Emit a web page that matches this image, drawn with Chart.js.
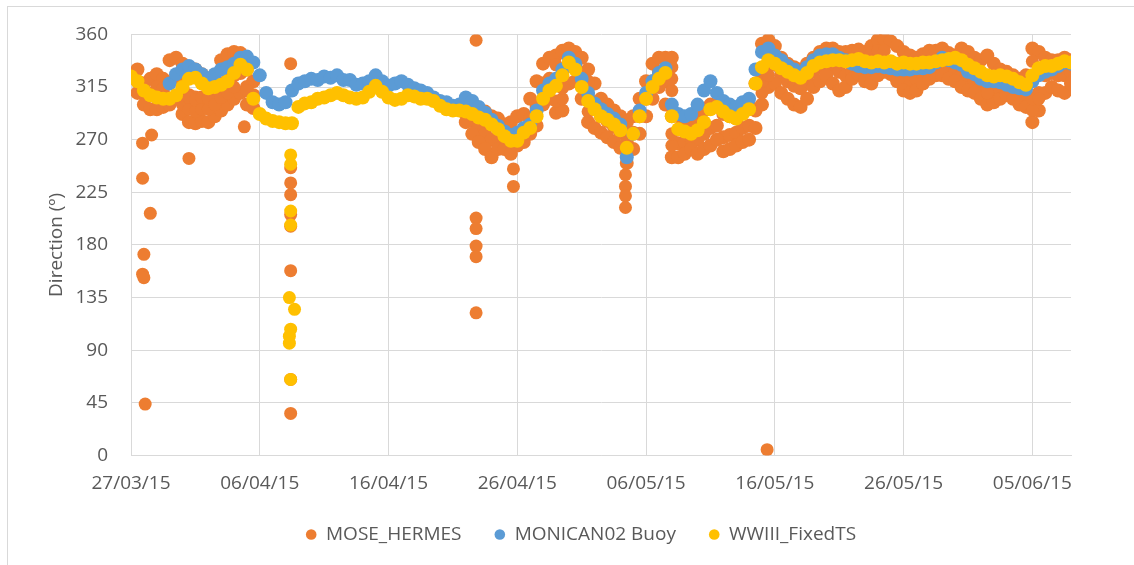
<!DOCTYPE html>
<html>
<head>
<meta charset="utf-8">
<script src="https://cdn.jsdelivr.net/npm/chart.js@4.4.1/dist/chart.umd.min.js"></script>
<style>
  html, body { margin: 0; padding: 0; background: #fff; overflow: hidden; }
  #frame { position: absolute; left: 7px; top: 6px; width: 1200px; height: 700px; border: 1px solid #d9d9d9; }
  #wrap { position: absolute; left: 0; top: 0; width: 1134px; height: 565px; }
</style>
</head>
<body>
<div id="frame"></div>
<div id="wrap"><canvas id="dir_chart"></canvas></div>
<script>
// series sampled every half day from 27/03/15 (day 0) to 08/06/15 (day 73)
const wwiii_dir = [
  324, 320, 312, 308, 306, 305, 305, 308, 315, 322,
  323, 318, 314, 315, 317, 320, 327, 334, 330, 305,
  292, 288, 286, 285, 284, 284, 298, 301, 302, 305,
  306, 308, 310, 308, 306, 305, 306, 311, 316, 311,
  306, 304, 305, 308, 307, 305, 305, 303, 299, 296,
  295, 295, 294, 292, 289, 287, 283, 279, 273, 269,
  269, 276, 280, 290, 305, 312, 316, 325, 336, 330,
  315, 303, 296, 290, 287, 283, 278, 263, 275, 290,
  305, 315, 322, 327, 290, 279, 277, 275, 278, 285,
  296, 298, 294, 290, 288, 292, 296, 318, 332, 338,
  335, 331, 328, 325, 323, 327, 333, 336, 337, 338,
  338, 337, 338, 339, 337, 336, 337, 336, 337, 335,
  336, 335, 335, 336, 336, 337, 338, 339, 340, 338,
  334, 331, 328, 325, 324, 325, 324, 322, 319, 317,
  325, 331, 333, 333, 335, 337, 336,
];

const monican_dir = [
  null, null, null, null, null, null, 318, 326, 330, 333,
  330, 326, 322, 326, 330, 332, 335, 340, 341, 336,
  325, 310, 302, 300, 302, 312, 318, 320, 322, 321,
  324, 323, 325, 321, 321, 317, 318, 320, 325, 320,
  316, 318, 320, 317, 314, 312, 310, 306, 303, 302,
  299, 300, 306, 303, 298, 293, 287, 282, 277, 274,
  276, 280, 283, 295, 312, 318, 322, 330, 340, 335,
  322, 310, 301, 296, 292, 288, 283, 255, 275, 295,
  310, 320, 327, 331, 300, 292, 290, 292, 300, 312,
  320, 310, 303, 300, 298, 302, 305, 330, 345, 348,
  342, 338, 333, 330, 327, 332, 338, 342, 343, 343,
  340, 338, 335, 333, 332, 332, 333, 332, 331, 330,
  330, 330, 331, 331, 332, 336, 340, 338, 336, 334,
  328, 326, 322, 320, 320, 319, 317, 315, 314, 313,
  320, 325, 328, 330, 333, 336, 335,
];

// MOSE: upper, middle and lower edge of the scattered band
const mose_high = [
  null, 330, 318, 322, 326, 322, 338, 340, 335, 332,
  330, 326, 322, 325, 338, 343, 345, 344, 330, 320,
  null, null, null, null, null, null, null, null, null, null,
  null, null, null, null, null, null, null, null, null, null,
  null, null, null, null, null, null, null, null, null, null,
  null, null, 300, 298, 296, 294, 290, 288, 283, 285,
  290, 292, 305, 320, 335, 340, 342, 346, 348, 345,
  340, 330, 318, 305, 300, 295, 290, 285, 290, 305,
  320, 335, 340, 340, 340, 290, 285, 282, 288, 295,
  300, 300, 292, 290, 288, 294, 300, 318, 352, 355,
  350, 340, 335, 332, 330, 335, 340, 345, 348, 348,
  345, 345, 346, 347, 345, 350, 355, 356, 354, 350,
  345, 342, 340, 343, 346, 346, 348, 344, 342, 348,
  345, 340, 338, 342, 335, 330, 328, 325, 322, 325,
  348, 345, 340, 338, 338, 340, 338,
];

const mose_mid = [
  null, 320, 309, 309, 311, 310, 319, 322, 313, 308,
  306, 306, 303, 307, 316, 321, 325, 327, 315, 308,
  null, null, null, null, null, null, null, null, null, null,
  null, null, null, null, null, null, null, null, null, null,
  null, null, null, null, null, null, null, null, null, null,
  null, null, 292, 286, 280, 275, 270, 272, 270, 266,
  275, 278, 288, 298, 318, 322, 318, 320, 333, 333,
  322, 306, 299, 290, 286, 281, 276, 268, 276, 290,
  305, 320, 328, 320, 290, 267, 268, 271, 270, 275,
  280, 282, 272, 274, 276, 280, 282, 295, 326, 335,
  334, 325, 320, 316, 314, 320, 328, 333, 336, 333,
  328, 325, 328, 331, 326, 325, 330, 333, 332, 328,
  322, 320, 322, 326, 330, 332, 333, 330, 328, 325,
  322, 320, 315, 312, 312, 313, 316, 313, 310, 308,
  300, 310, 325, 327, 325, 325, 328,
];

const mose_low = [
  null, 310, 300, 296, 296, 298, 300, 305, 292, 285,
  284, 286, 285, 290, 295, 300, 305, 310, 300, 297,
  null, null, null, null, null, null, null, null, null, null,
  null, null, null, null, null, null, null, null, null, null,
  null, null, null, null, null, null, null, null, null, null,
  null, null, 285, 275, 268, 262, 255, 262, 262, 258,
  265, 268, 275, 282, 300, 305, 293, 295, 318, 320,
  305, 285, 280, 276, 272, 268, 263, 250, 262, 275,
  290, 305, 315, 300, 255, 255, 258, 262, 258, 262,
  265, 270, 260, 262, 265, 268, 270, 280, 300, 315,
  318, 310, 305, 300, 298, 305, 315, 320, 325, 318,
  312, 315, 322, 326, 320, 318, 325, 328, 326, 320,
  312, 310, 312, 318, 322, 325, 325, 322, 320, 315,
  312, 310, 305, 300, 302, 305, 308, 305, 300, 298,
  285, 295, 310, 315, 312, 310, 318,
];

// extra MOSE readings inside the wide spread
const mose_fill_day = [2, 2.5, 4, 4.5, 4.5, 5, 5, 5.5, 5.5, 6, 6, 6.5, 7, 7.5, 8, 9,
  33, 33, 33.5, 33.5, 35.5, 35.5, 42, 42, 42, 42, 42, 49, 49, 49.5, 57.5, 58, 58.5,
  66.5, 70, 70, 70, 70.5];
const mose_fill_dir = [315, 314, 300, 296, 306, 294, 304, 296, 306, 296, 305, 300, 306, 310, 315, 312,
  303, 334, 305, 314, 294, 320, 265, 275, 312, 322, 332, 310, 320, 325, 344, 346, 346,
  310, 295, 305, 337, 305];

// isolated points
const mose_out_day = [0.9, 0.9, 1.0, 0.9, 1.0, 1.1, 1.6, 1.5, 4.5, 8.8,
  12.4, 12.4, 12.4, 12.4, 12.4, 12.4, 12.4, 12.4, 12.4,
  26.8, 26.8, 26.8, 26.8, 26.8, 26.8, 29.7, 29.7, 38.4, 38.4, 38.4, 38.4, 49.4];
const mose_out_dir = [267, 237, 172, 155, 152, 44, 274, 207, 254, 281,
  335, 246, 233, 223, 206, 196, 158, 65, 36,
  355, 203, 194, 179, 170, 122, 245, 230, 240, 230, 222, 212, 5];
const wwiii_out_day = [12.4, 12.4, 12.4, 12.4, 12.3, 12.7, 12.4, 12.3, 12.3, 12.4];
const wwiii_out_dir = [257, 249, 209, 197, 135, 125, 108, 102, 96, 65];

const y_ticks = [0, 45, 90, 135, 180, 225, 270, 315, 360];

Chart.defaults.responsive = true;
Chart.defaults.maintainAspectRatio = false;
Chart.defaults.font.family = "'Open Sans', sans-serif";
Chart.defaults.font.size = 19;
Chart.defaults.color = "#595959";

const half_day_points = (vals) =>
  vals.map((v, i) => ({ x: i / 2, y: v })).filter((p) => p.y !== null);
// lone points keep the plain marker size, the dense band gets a little more
const pair_points = (days, dirs) => days.map((d, i) => ({ x: d, y: dirs[i], lone: true }));

const format_day = (d) => {
  const dt = new Date(2015, 2, 27 + d);
  const pad = (n) => String(n).padStart(2, "0");
  return `${pad(dt.getDate())}/${pad(dt.getMonth() + 1)}/${String(dt.getFullYear()).slice(2)}`;
};

const ctx = document.getElementById("dir_chart").getContext("2d");

const point_style = (color) => ({
  backgroundColor: color,
  borderColor: color,
  pointRadius: (c) => (c.raw && c.raw.lone ? 6.5 : 7),
  pointHoverRadius: 7,
  pointBorderWidth: 0,
  showLine: false,
});

new Chart(ctx, {
  type: "scatter",
  data: {
    datasets: [
      {
        label: "MOSE_HERMES",
        data: [
          ...half_day_points(mose_high),
          ...half_day_points(mose_mid),
          ...half_day_points(mose_low),
          ...pair_points(mose_fill_day, mose_fill_dir),
          ...pair_points(mose_out_day, mose_out_dir),
        ],
        order: 3,
        ...point_style("#ED7D31"),
      },
      {
        label: "MONICAN02 Buoy",
        data: half_day_points(monican_dir),
        order: 2,
        ...point_style("#5B9BD5"),
      },
      {
        label: "WWIII_FixedTS",
        data: [...half_day_points(wwiii_dir), ...pair_points(wwiii_out_day, wwiii_out_dir)],
        order: 1,
        ...point_style("#FFC000"),
      },
    ],
  },
  options: {
    animation: false,
    layout: { padding: { left: 42, right: 14, top: 33, bottom: 11 } },
    plugins: {
      tooltip: { enabled: false },
      legend: {
        position: "bottom",
        labels: {
          usePointStyle: true,
          pointStyle: "circle",
          boxHeight: 7.5,
          pointStyleWidth: 10.6,
          padding: 33,
          color: "#595959",
          sort: (a, b) => a.datasetIndex - b.datasetIndex,
        },
      },
    },
    scales: {
      x: {
        type: "linear",
        min: 0,
        max: 73,
        afterBuildTicks: (axis) => {
          axis.ticks = axis.ticks.filter((t) => t.value % 10 === 0);
        },
        afterFit: (axis) => {
          axis.height = 36.5;
        },
        ticks: { stepSize: 10, maxRotation: 0, padding: 17, callback: (v) => format_day(v) },
        grid: { color: "#d9d9d9", drawTicks: false },
        border: { color: "#d9d9d9" },
      },
      y: {
        min: 0,
        max: 360,
        afterBuildTicks: (axis) => {
          axis.ticks = y_ticks.map((v) => ({ value: v }));
        },
        afterFit: (axis) => {
          axis.width = 89;
        },
        ticks: { padding: 23 },
        title: {
          display: true,
          text: "Direction (º)",
          color: "#595959",
          padding: { top: 3, bottom: 0 },
        },
        grid: { color: "#d9d9d9", drawTicks: false },
        border: { color: "#d9d9d9" },
      },
      y_right: {
        position: "right",
        display: true,
        afterFit: (axis) => {
          axis.width = 49;
        },
        ticks: { display: false },
        grid: { display: false },
        border: { display: false },
      },
    },
  },
});
</script>
</body>
</html>
